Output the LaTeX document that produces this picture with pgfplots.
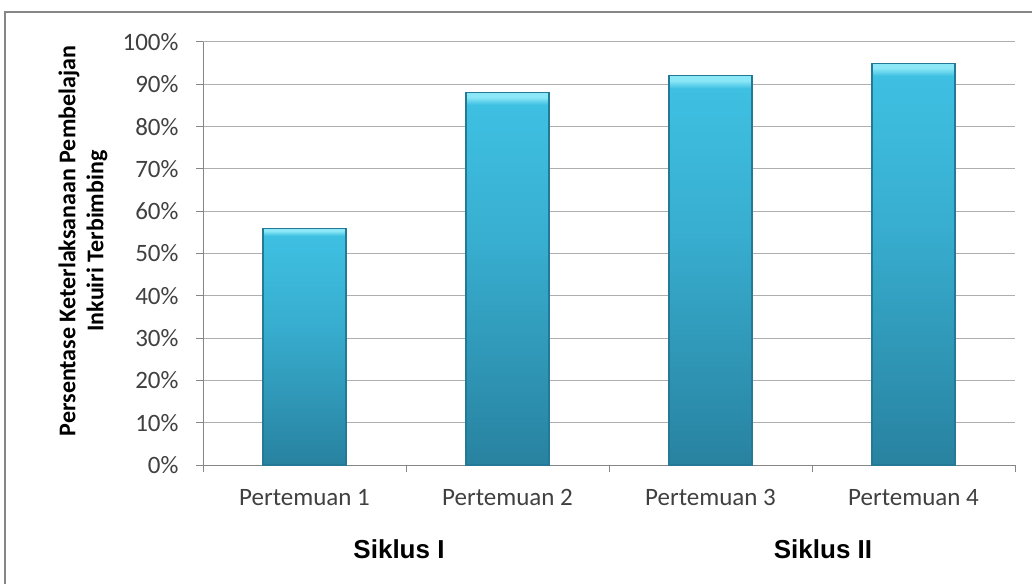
\documentclass[border=0pt]{standalone}
\usepackage{fontspec}
\setmainfont{Carlito}
\newfontfamily\arialf{Liberation Sans}
\usepackage{pgfplots}
\pgfplotsset{compat=1.18}
\definecolor{barbot}{RGB}{40,130,160}
\definecolor{barmid}{RGB}{56,174,208}
\definecolor{bartop}{RGB}{62,192,226}
\definecolor{barcap}{RGB}{140,232,247}
\definecolor{baredge}{RGB}{36,122,150}
\definecolor{gridc}{RGB}{175,175,175}
\definecolor{axc}{RGB}{134,134,134}
\pgfdeclareverticalshading{barshade}{100bp}{color(0bp)=(barbot); color(25bp)=(barbot); color(55bp)=(barmid); color(73.4bp)=(bartop); color(74.4bp)=(barcap); color(75bp)=(barcap); color(100bp)=(barcap)}
\pgfplotsset{barsty/.style={draw=baredge, line width=1.2pt, shading=barshade, bar shift=0pt}}
\begin{document}
\begin{tikzpicture}
\useasboundingbox (0pt,0pt) rectangle (1032pt,-583pt);
\draw[color=axc, line width=1.6pt] (5pt,-600pt) -- (5pt,-12pt) -- (1050pt,-12pt);
\begin{axis}[
  at={(203pt,-465pt)}, anchor=south west,
  scale only axis, width=812pt, height=423pt,
  xmin=0.5, xmax=4.5, ymin=0, ymax=100,
  axis lines=left, axis line style={-, color=axc, line width=1pt},
  ybar, bar width=83pt,
  xtick={1,2,3,4},
  xticklabels={Pertemuan 1, Pertemuan 2, Pertemuan 3, Pertemuan 4},
  x tick style={draw=none},
  extra x ticks={0.5,1.5,2.5,3.5,4.5},
  extra x tick labels={},
  extra x tick style={grid=none, major tick length=7pt, tick align=outside, x tick style={draw=axc, line width=1pt}},
  ytick={0,10,...,100},
  yticklabel={\pgfmathprintnumber{\tick}\%},
  /pgf/number format/assume math mode=true,
  ytick align=outside, major tick length=7pt,
  y tick style={color=axc, line width=1pt},
  ymajorgrids, grid style={color=gridc, line width=1pt},
  ticklabel style={font=\fontsize{25}{30}\selectfont, text=black!75},
  xticklabel shift=14pt,
  yticklabel shift=14pt,
  clip=false,
]
\addplot[barsty] coordinates {(1,56)};
\addplot[barsty] coordinates {(2,88)};
\addplot[barsty] coordinates {(3,92)};
\addplot[barsty] coordinates {(4,95)};
\end{axis}
\node[rotate=90, align=center, font=\bfseries\fontsize{24}{28}\selectfont] at (83pt,-241pt) {Persentase Keterlaksanaan Pembelajan\\Inkuiri Terbimbing};
\node[font=\arialf\bfseries\fontsize{26}{30}\selectfont] at (399pt,-549pt) {Siklus I};
\node[font=\arialf\bfseries\fontsize{26}{30}\selectfont] at (823pt,-549pt) {Siklus II};
\end{tikzpicture}
\end{document}
